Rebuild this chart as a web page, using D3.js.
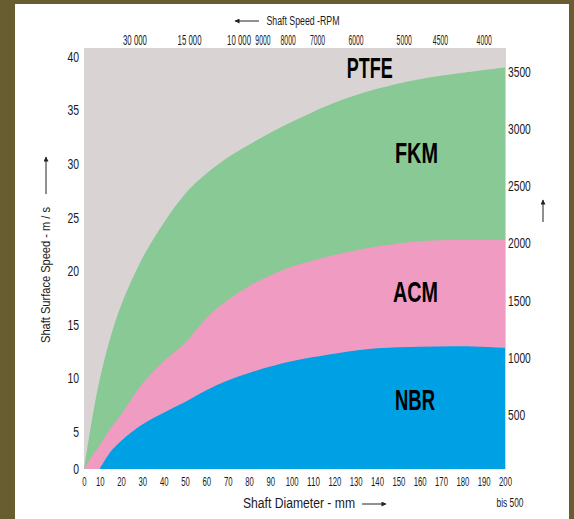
<!DOCTYPE html>
<html lang="en">
<meta charset="utf-8">
<head>
<style>
  body { margin: 0; background: #685c31; }
  svg { display: block; }
  text { font-family: "Liberation Sans Narrow", "Arial Narrow", "Liberation Sans", sans-serif; fill: #1a1a1a; }
</style>
<script src="https://cdn.jsdelivr.net/npm/d3@7"></script>
</head>
<body>
<script>
  // sizes
  var width = 574, height = 519;
  var plotTop = 48;

  // max shaft surface speed (m/s) against shaft diameter (mm), one pair per material
  var fkmDia = [0, 5, 10, 15, 20, 30, 40, 50, 60, 70, 80, 90, 100, 120, 140, 160, 180, 200];
  var fkmSpeed = [0, 6.1, 9.9, 13.8, 16.8, 21.2, 24.5, 27.2, 29.1, 30.6, 31.8, 32.9, 33.9, 35.7, 37.0, 37.9, 38.5, 39.0];
  var acmDia = [0, 5, 10, 15, 20, 30, 40, 50, 60, 70, 80, 90, 100, 120, 140, 160, 180, 200];
  var acmSpeed = [0, 1.7, 3.2, 5.3, 6.6, 9.5, 11.6, 13.3, 15.6, 17.3, 18.6, 19.6, 20.4, 21.5, 22.3, 22.8, 22.9, 22.9];
  var nbrDia = [10, 15, 20, 30, 40, 50, 60, 70, 80, 90, 100, 120, 140, 160, 180, 200];
  var nbrSpeed = [0, 2.3, 3.8, 5.7, 6.8, 7.8, 8.9, 9.8, 10.5, 11.1, 11.6, 12.3, 12.8, 12.95, 13.0, 12.85];

  // axis ticks
  var diaTicks = [0, 10, 20, 30, 40, 50, 60, 70, 80, 90, 100, 110, 120, 130, 140, 150, 160, 170, 180, 190, 200];
  var speedTicks = [0, 5, 10, 15, 20, 25, 30, 35, 40];
  var rpmTopLabels = ["30 000", "15 000", "10 000", "9000", "8000", "7000", "6000", "5000", "4500", "4000"];
  var rpmTopDia = [26.3, 51.9, 75.1, 86.3, 98.1, 111.9, 129.9, 152.5, 169.5, 190];
  var rpmRightTicks = [500, 1000, 1500, 2000, 2500, 3000, 3500];

  // material names, placed at (diameter, speed)
  var matNames = ["PTFE", "FKM", "ACM", "NBR"];
  var matDia = [136.6, 158.5, 158, 157.8];
  var matSpeed = [38.0, 30.1, 17.1, 7.05];
  var matWidth = [46, 43, 45, 40];

  // scales (the printed axis is squeezed near zero)
  var x = d3.scaleLinear().domain([0, 10, 200]).range([84, 99.7, 505]);
  var y = d3.scaleLinear().domain([0, 5, 40]).range([469, 432, 56.7]);
  var r = d3.scaleLinear().domain([500, 3500]).range([415, 72]);

  // width a condensed label should take: narrow digits, wider spaces
  function labelWidth(t, w) {
    var sp = t.split(" ").length - 1;
    return (t.length - sp) * w + sp * 5;
  }
  function squeeze(sel, w) {
    sel.attr("textLength", function () { return labelWidth(this.textContent, w); })
      .attr("lengthAdjust", "spacingAndGlyphs");
  }

  var svg = d3.select("body").append("svg")
    .attr("width", width)
    .attr("height", height);

  svg.append("rect").attr("width", width).attr("height", height).attr("fill", "#685c31");
  svg.append("rect").attr("x", 15).attr("y", 4).attr("width", 554).attr("height", height - 4).attr("fill", "#fff");

  var defs = svg.append("defs");
  defs.append("clipPath").attr("id", "plot")
    .append("rect")
    .attr("x", x(0)).attr("y", plotTop)
    .attr("width", x(200) - x(0) + 1).attr("height", y(0) - plotTop);
  defs.append("marker").attr("id", "head")
    .attr("viewBox", "0 0 10 10").attr("refX", 9).attr("refY", 5)
    .attr("markerWidth", 7).attr("markerHeight", 5).attr("orient", "auto")
    .attr("markerUnits", "userSpaceOnUse")
    .append("path").attr("d", "M0,0L10,5L0,10z").attr("fill", "#222");

  // PTFE = whole field
  svg.append("rect")
    .attr("x", x(0)).attr("y", plotTop)
    .attr("width", x(200) - x(0) + 1).attr("height", y(0) - plotTop)
    .attr("fill", "#d9d4d3");

  var area = d3.area()
    .x(function (d) { return x(d[0]); })
    .y0(y(0))
    .y1(function (d) { return y(d[1]); })
    .curve(d3.curveCatmullRom.alpha(0.5));

  var g = svg.append("g").attr("clip-path", "url(#plot)");
  g.append("path").attr("d", area(d3.zip(fkmDia, fkmSpeed))).attr("fill", "#89c996");
  g.append("path").attr("d", area(d3.zip(acmDia, acmSpeed))).attr("fill", "#f09bc1");
  g.append("path").attr("d", area(d3.zip(nbrDia, nbrSpeed))).attr("fill", "#00a0e4");

  // material labels
  svg.selectAll(".mat")
    .data(matNames)
    .enter().append("text")
    .attr("class", "mat")
    .attr("x", function (d, i) { return x(matDia[i]); })
    .attr("y", function (d, i) { return y(matSpeed[i]); })
    .attr("text-anchor", "middle")
    .attr("font-size", 30)
    .attr("font-weight", "bold")
    .attr("textLength", function (d, i) { return matWidth[i]; })
    .attr("lengthAdjust", "spacingAndGlyphs")
    .style("fill", "#000")
    .text(function (d) { return d; });

  // left axis
  var ay = svg.append("g").attr("transform", "translate(" + x(0) + ",0)")
    .call(d3.axisLeft(y).tickValues(speedTicks).tickSize(0).tickPadding(5));
  ay.select(".domain").remove();
  ay.selectAll("text").attr("font-size", 14).style("font-family", null).call(squeeze, 5.8);

  // bottom axis
  var ax = svg.append("g").attr("transform", "translate(0," + y(0) + ")")
    .call(d3.axisBottom(x).tickValues(diaTicks).tickSize(0).tickPadding(8));
  ax.select(".domain").remove();
  ax.selectAll("text").attr("font-size", 13).style("font-family", null).call(squeeze, 4.3);

  // top axis (RPM) - squeezed with a horizontal scale round the label centre
  var at = svg.append("g").attr("transform", "translate(0," + plotTop + ")")
    .call(d3.axisTop(x).tickValues(rpmTopDia).tickSize(0).tickPadding(3)
      .tickFormat(function (d, i) { return rpmTopLabels[i]; }));
  at.select(".domain").remove();
  at.selectAll("text").attr("font-size", 14).style("font-family", null)
    .attr("transform", function () {
      var sx = labelWidth(this.textContent, 3.8) / this.getComputedTextLength();
      return "scale(" + sx + ",1)";
    });

  // right axis (RPM)
  var ar = svg.append("g").attr("transform", "translate(" + x(200) + ",0)")
    .call(d3.axisRight(r).tickValues(rpmRightTicks).tickSize(0).tickPadding(3)
      .tickFormat(d3.format("d")));
  ar.select(".domain").remove();
  ar.selectAll("text").attr("font-size", 14).style("font-family", null).call(squeeze, 5.7);

  svg.selectAll(".tick text").style("fill", "#1a1a1a");

  // titles
  svg.append("text").attr("x", 510).attr("y", 507).attr("text-anchor", "middle")
    .attr("font-size", 13).attr("textLength", 27).attr("lengthAdjust", "spacingAndGlyphs")
    .text("bis 500");

  svg.append("text").attr("x", 299).attr("y", 508).attr("text-anchor", "middle")
    .attr("font-size", 14).attr("textLength", 112).attr("lengthAdjust", "spacingAndGlyphs")
    .text("Shaft Diameter - mm");
  svg.append("line").attr("x1", 362).attr("y1", 504).attr("x2", 386).attr("y2", 504)
    .attr("stroke", "#222").attr("stroke-width", 1).attr("marker-end", "url(#head)");

  svg.append("text").attr("x", 303).attr("y", 25).attr("text-anchor", "middle")
    .attr("font-size", 12).attr("textLength", 73).attr("lengthAdjust", "spacingAndGlyphs")
    .text("Shaft Speed -RPM");
  svg.append("line").attr("x1", 259).attr("y1", 21).attr("x2", 235).attr("y2", 21)
    .attr("stroke", "#222").attr("stroke-width", 1).attr("marker-end", "url(#head)");

  svg.append("text").attr("transform", "translate(50,275) rotate(-90)").attr("text-anchor", "middle")
    .attr("font-size", 13).attr("textLength", 136).attr("lengthAdjust", "spacingAndGlyphs")
    .text("Shaft Surface Speed - m / s");
  svg.append("line").attr("x1", 46).attr("y1", 194).attr("x2", 46).attr("y2", 157)
    .attr("stroke", "#222").attr("stroke-width", 1).attr("marker-end", "url(#head)");

  svg.append("line").attr("x1", 543).attr("y1", 222).attr("x2", 543).attr("y2", 200)
    .attr("stroke", "#222").attr("stroke-width", 1).attr("marker-end", "url(#head)");
</script>
</body>
</html>
